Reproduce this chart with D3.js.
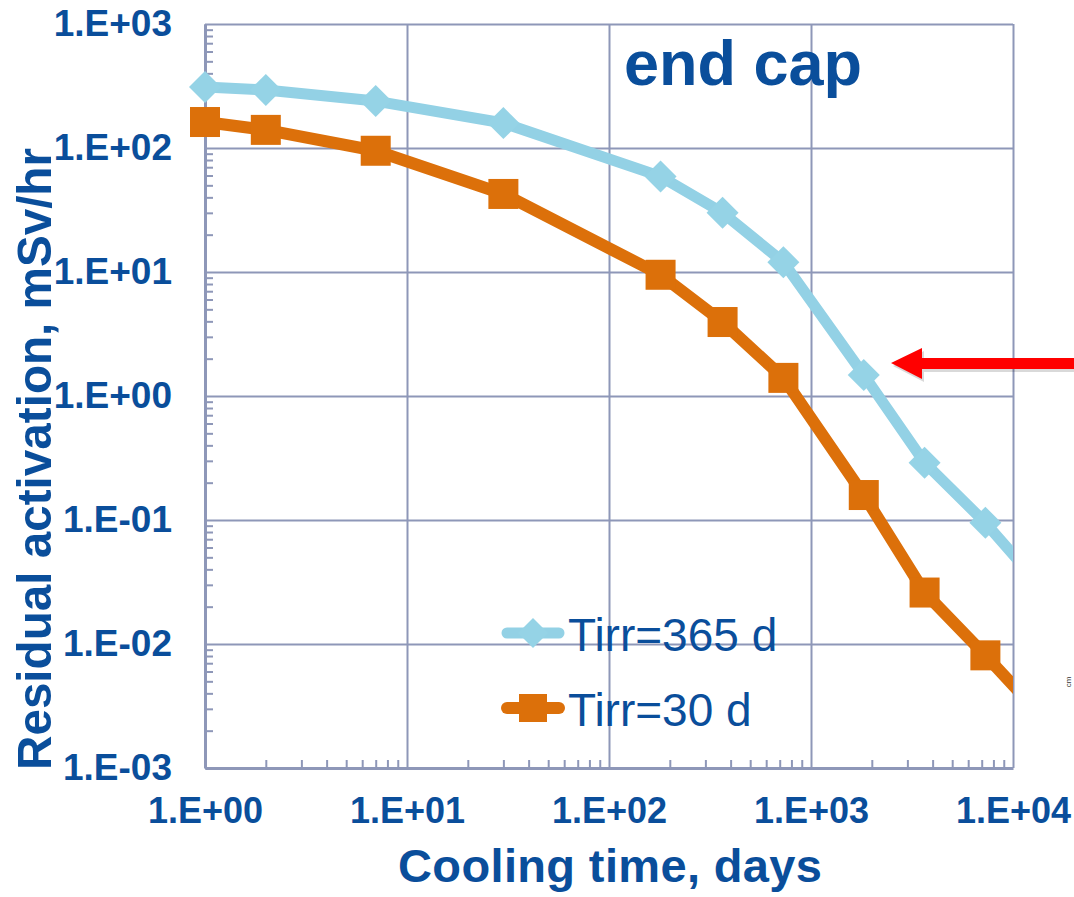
<!DOCTYPE html>
<html>
<head>
<meta charset="utf-8">
<script src="https://cdn.jsdelivr.net/npm/d3@7"></script>
<style>
  body { margin: 0; background: #fff; }
  svg { display: block; font-family: "Liberation Sans", Arial, sans-serif; }
</style>
</head>
<body>
<script>
// cooling time in days
var coolDays = [1, 2, 7, 30, 180, 365, 730, 1825, 3650, 7300, 14600];
// residual activation, mSv/hr
var tirr365 = [310, 294, 239, 159, 59, 30, 12, 1.48, 0.29, 0.095, 0.026];
var tirr30 = [162, 140, 95, 42.6, 9.5, 3.95, 1.4, 0.159, 0.026, 0.0081, 0.0024];

var xTicks = [1, 10, 100, 1000, 10000];
var xTickLabels = ["1.E+00", "1.E+01", "1.E+02", "1.E+03", "1.E+04"];
var yTicks = [1e-3, 1e-2, 1e-1, 1, 10, 100, 1000];
var yTickLabels = ["1.E-03", "1.E-02", "1.E-01", "1.E+00", "1.E+01", "1.E+02", "1.E+03"];

var seriesNames = ["Tirr=365 d", "Tirr=30 d"];

var W = 1074, H = 897;
var plotLeft = 205, plotRight = 1013, plotTop = 24, plotBottom = 768;
var textBlue = "#0a4e9b", gridCol = "#8e97b8";
var blue = "#93d1e5", orange = "#dc700a";

var svg = d3.select("body").append("svg")
    .attr("width", W)
    .attr("height", H);

var x = d3.scaleLog().domain([1, 10000]).range([plotLeft, plotRight]);
var y = d3.scaleLog().domain([1e-3, 1e3]).range([plotBottom, plotTop]);

// minor tick values inside each decade
var minorX = [], minorY = [];
xTicks.slice(0, -1).forEach(function(d) {
  for (var k = 2; k <= 9; k++) minorX.push(d * k);
});
yTicks.slice(0, -1).forEach(function(d) {
  for (var k = 2; k <= 9; k++) minorY.push(d * k);
});

// grid
svg.append("g")
    .attr("class", "grid")
    .attr("transform", "translate(0," + plotBottom + ")")
    .call(d3.axisBottom(x).tickValues(xTicks).tickSize(-(plotBottom - plotTop)).tickFormat(""))
    .call(function(g) { g.select(".domain").remove(); });
svg.append("g")
    .attr("class", "grid")
    .attr("transform", "translate(" + plotLeft + ",0)")
    .call(d3.axisLeft(y).tickValues(yTicks).tickSize(-(plotRight - plotLeft)).tickFormat(""))
    .call(function(g) { g.select(".domain").remove(); });
svg.selectAll(".grid line")
    .attr("stroke", gridCol)
    .attr("stroke-width", 2);

// minor ticks
svg.append("g")
    .attr("class", "minor")
    .attr("transform", "translate(0," + plotBottom + ")")
    .call(d3.axisBottom(x).tickValues(minorX).tickSize(-8).tickSizeOuter(0).tickFormat(""));
svg.append("g")
    .attr("class", "minor")
    .attr("transform", "translate(" + plotLeft + ",0)")
    .call(d3.axisLeft(y).tickValues(minorY).tickSize(-8).tickSizeOuter(0).tickFormat(""));
svg.selectAll(".minor line")
    .attr("stroke", gridCol)
    .attr("stroke-width", 2);
svg.selectAll(".minor .domain")
    .attr("stroke", gridCol)
    .attr("stroke-width", 3);

// tick labels
var xAxis = svg.append("g")
    .attr("transform", "translate(0," + plotBottom + ")")
    .call(d3.axisBottom(x).tickValues(xTicks).tickSize(0).tickPadding(29)
      .tickFormat(function(d, i) { return xTickLabels[i]; }));
xAxis.select(".domain").remove();
xAxis.selectAll("text")
    .attr("fill", textBlue)
    .style("font-size", "36px")
    .style("font-weight", "bold");

var yAxis = svg.append("g")
    .attr("transform", "translate(" + plotLeft + ",0)")
    .call(d3.axisLeft(y).tickValues(yTicks).tickSize(0).tickPadding(33)
      .tickFormat(function(d, i) { return yTickLabels[i]; }));
yAxis.select(".domain").remove();
yAxis.selectAll("text")
    .attr("fill", textBlue)
    .attr("dy", "0.3em")
    .style("font-size", "37px")
    .style("font-weight", "bold");

// axis titles
svg.append("text")
    .attr("x", 610)
    .attr("y", 882)
    .attr("text-anchor", "middle")
    .attr("fill", textBlue)
    .style("font-size", "47px")
    .style("font-weight", "bold")
    .attr("textLength", 424)
    .text("Cooling time, days");

svg.append("text")
    .attr("transform", "translate(51,459) rotate(-90)")
    .attr("text-anchor", "middle")
    .attr("fill", textBlue)
    .style("font-size", "49px")
    .style("font-weight", "bold")
    .attr("textLength", 622)
    .attr("lengthAdjust", "spacingAndGlyphs")
    .text("Residual activation, mSv/hr");

svg.append("text")
    .attr("x", 624)
    .attr("y", 85)
    .attr("fill", textBlue)
    .style("font-size", "63px")
    .style("font-weight", "bold")
    .text("end cap");

// series
svg.append("clipPath")
    .attr("id", "clip")
  .append("rect")
    .attr("x", 0).attr("y", 0)
    .attr("width", plotRight).attr("height", H);

var plot = svg.append("g").attr("clip-path", "url(#clip)");

var line = d3.line()
    .x(function(d) { return x(d[0]); })
    .y(function(d) { return y(d[1]); });

var data365 = coolDays.map(function(d, i) { return [d, tirr365[i]]; });
var data30 = coolDays.map(function(d, i) { return [d, tirr30[i]]; });

plot.append("path")
    .datum(data365)
    .attr("d", line)
    .attr("fill", "none")
    .attr("stroke", blue)
    .attr("stroke-width", 11)
    .attr("stroke-linejoin", "round");

plot.selectAll(".dia")
    .data(data365)
  .enter().append("path")
    .attr("class", "dia")
    .attr("d", "M0,-16L16,0L0,16L-16,0Z")
    .attr("transform", function(d) { return "translate(" + x(d[0]) + "," + y(d[1]) + ")"; })
    .attr("fill", "#95d3e6");

plot.append("path")
    .datum(data30)
    .attr("d", line)
    .attr("fill", "none")
    .attr("stroke", orange)
    .attr("stroke-width", 12)
    .attr("stroke-linejoin", "round");

plot.selectAll(".sq")
    .data(data30)
  .enter().append("rect")
    .attr("class", "sq")
    .attr("x", function(d) { return x(d[0]) - 15; })
    .attr("y", function(d) { return y(d[1]) - 15; })
    .attr("width", 30)
    .attr("height", 30)
    .attr("fill", orange);

// legend
var legend = svg.append("g");
var legY = [633, 708];
[blue, orange].forEach(function(c, i) {
  var g = legend.append("g").attr("transform", "translate(533," + legY[i] + ")");
  g.append("line")
      .attr("x1", -26).attr("x2", 26)
      .attr("stroke", c)
      .attr("stroke-width", i === 0 ? 11 : 12)
      .attr("stroke-linecap", "round");
  if (i === 0) {
    g.append("path").attr("d", "M0,-15L15,0L0,15L-15,0Z").attr("fill", "#95d3e6");
  } else {
    g.append("rect").attr("x", -14).attr("y", -14).attr("width", 28).attr("height", 28).attr("fill", c);
  }
  g.append("text")
      .attr("x", 35)
      .attr("y", 18)
      .attr("fill", textBlue)
      .style("font-size", "46px")
      .text(seriesNames[i]);
});

// red arrow pointing at the 365 d curve
var arrow = "M891,363L922,348L922,358L1074,358L1074,369L922,369L922,379Z";
svg.append("path")
    .attr("d", arrow)
    .attr("transform", "translate(2,3)")
    .attr("fill", "#000")
    .attr("opacity", 0.15);
svg.append("path")
    .attr("d", arrow)
    .attr("fill", "#ff0000");

// tiny stray label at right edge
svg.append("text")
    .attr("transform", "translate(1071,682) rotate(-90)")
    .attr("text-anchor", "middle")
    .attr("fill", "#333")
    .style("font-size", "8px")
    .text("cm");
</script>
</body>
</html>
